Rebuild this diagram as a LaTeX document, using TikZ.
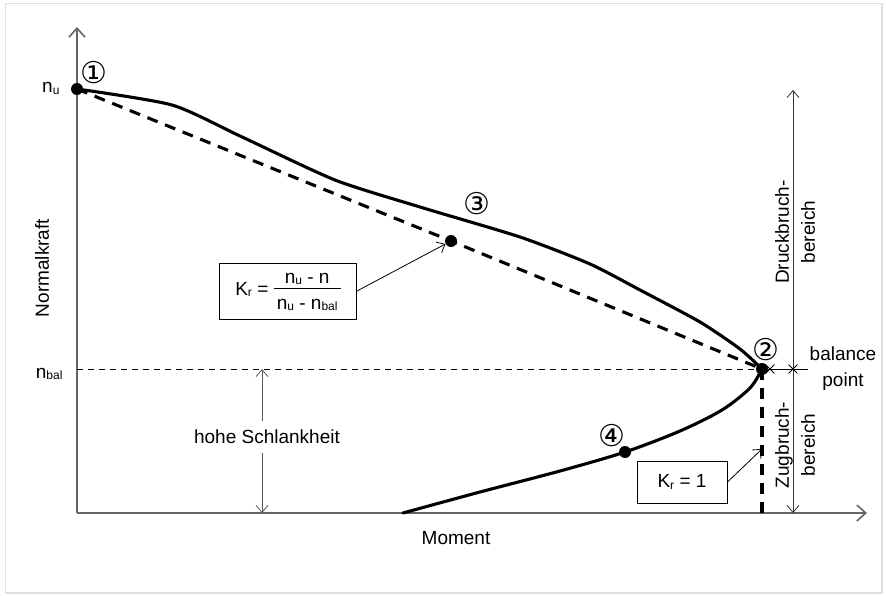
\documentclass[tikz,border=0pt]{standalone}
\usepackage{fontspec}
\setmainfont{Liberation Sans}
\newfontfamily\circnum{DejaVu Sans}
\usetikzlibrary{arrows.meta,shapes.misc}
\newcommand{\lowtxt}[1]{\raisebox{-1.5pt}{\fontsize{12}{12}\selectfont #1}}

\begin{document}
\begin{tikzpicture}[x=1pt, y=-1pt, font=\fontsize{19}{26}\selectfont,
		axis/.style={line width=1.6pt, color=black!60, -{Straight Barb[length=9pt, width=16pt]}},
		thinarrow/.style={line width=0.8pt, -{Straight Barb[length=7pt, width=12pt]}},
		curve/.style={line width=3.1pt, line join=round, line cap=round},
		dashcurve/.style={line width=3.1pt, dash pattern=on 11pt off 8pt},
		dot/.style={circle, fill=black, inner sep=0pt, minimum size=12pt},
		numlabel/.style={font=\circnum\fontsize{30}{30}\selectfont, inner sep=0pt},
		formbox/.style={draw, line width=1pt, inner sep=0pt},
		crossmark/.style={draw, cross out, inner sep=0pt, minimum size=8pt, line width=0.8pt}]
		%%%%% START %%%%%
		
		\useasboundingbox (0,0) rectangle (886,596);
		\draw[line width=1.2pt, color=black!12] (5.5,3.5) rectangle (882,593);
		
		\draw[axis] (77,513) -- (77,27);
		\draw[axis] (77,513) -- (867,513);
		\node[rotate=90] (ylabel) at (42,268) {Normalkraft};
		\node (xlabel) at (456,538) {Moment};
		\node[anchor=base east] (nu) at (63,93) {n\lowtxt{u}};
		\node[anchor=base east] (nbal) at (66,378) {n\lowtxt{bal}};
		
		\draw[line width=0.8pt, dash pattern=on 6pt off 5pt] (77,369) -- (762,369);
		
		\node[dot] (pone) at (77,89) {};
		\node[dot] (ptwo) at (762,369) {};
		\node[dot] (pthree) at (451,241) {};
		\node[dot] (pfour) at (625,452) {};
		
		\draw[curve] plot[smooth, tension=0.4] coordinates {(77,89) (172,105) (240,136) (335,180) (420,207) (520,237) (590,264) (640,290) (700,322) (740,349) (762,369)};
		\draw[curve] plot[smooth, tension=0.5] coordinates {(403,513) (480,492) (560,471) (625,452) (680,431) (722,410) (750,388) (762,369)};
		\draw[dashcurve] (pone.center) -- (pthree.center) -- (ptwo.center);
		\draw[dashcurve] (ptwo.center) -- (762,513);
		
		\node[numlabel] (lone) at (94,73) {①};
		\node[numlabel] (ltwo) at (766,350) {②};
		\node[numlabel] (lthree) at (477,204) {③};
		\node[numlabel] (lfour) at (612,436) {④};
		
		\node[formbox, minimum width=137pt, minimum height=56pt] (krfrac) at (288,291)
		{K\lowtxt{r} = \begin{tabular}{@{\,}c@{\,}}n\lowtxt{u} - n\\[-3pt]\hline\rule{0pt}{21pt}n\lowtxt{u} - n\lowtxt{bal}\end{tabular}};
		\draw[thinarrow] (krfrac.east) -- (pthree);
		
		\node[formbox, minimum width=90pt, minimum height=42pt] (krone) at (682,482) {K\lowtxt{r} = 1};
		\coordinate (kend) at (762,449);
		\draw[thinarrow] (krone.east) -- (kend);
		
		\coordinate (hstop) at (262,369);
		\coordinate (hsbot) at (262,513);
		\node[fill=white, inner xsep=2pt, inner ysep=9pt] (slim) at (267,437) {hohe Schlankheit};
		\draw[thinarrow, color=black!65] (slim.north -| hstop) -- (hstop);
		\draw[thinarrow, color=black!65] (slim.south -| hsbot) -- (hsbot);
		
		\coordinate (bal) at (793,369);
		\draw[line width=0.8pt] (ptwo.center) -- (808,369);
		\draw[thinarrow, color=black!80] (bal) -- (793,90);
		\draw[thinarrow, color=black!80] (bal) -- (793,513);
		\node[crossmark] (xone) at (770,369) {};
		\node[crossmark] (xtwo) at (bal) {};
		\node[rotate=90, align=center] (druck) at (795,232) {Druckbruch-\\bereich};
		\node[rotate=90, align=center] (zug) at (795,445) {Zugbruch-\\bereich};
		\node[align=center] (balpt) at (843,369) {balance\\point};
		
		%%%%% END %%%%%
\end{tikzpicture}
\end{document}
